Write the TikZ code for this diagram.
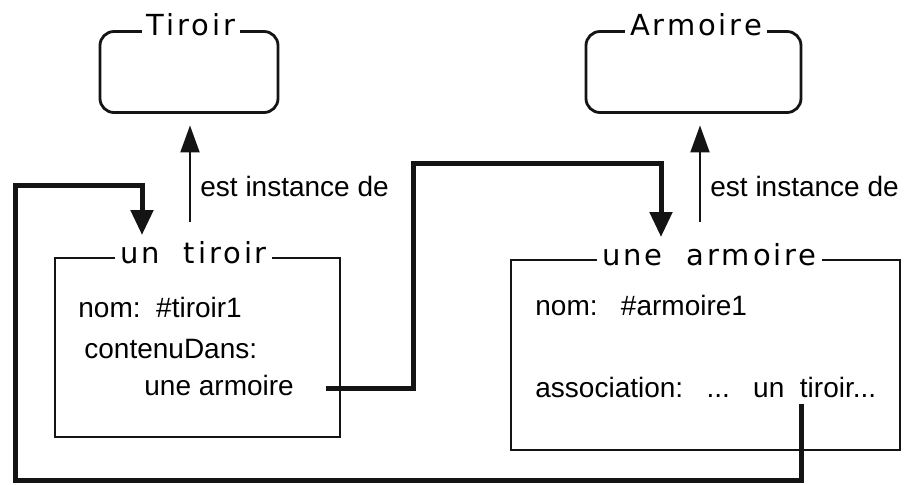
\documentclass[tikz,border=0pt]{standalone}
\usepackage{fontspec}
\setmainfont{Liberation Sans}
\newfontfamily\titlefont[LetterSpace=10]{DejaVu Sans}
\usepackage{tikz}
\usetikzlibrary{arrows.meta,positioning,calc}
\definecolor{inkblack}{RGB}{20,20,20}

\begin{document}
\begin{tikzpicture}[
  x=0.5pt, y=-0.5pt,
  classbox/.style={rectangle, rounded corners=7pt, draw=inkblack,
                   line width=1.4pt, minimum height=40.5pt, inner sep=0pt},
  instbox/.style={rectangle, draw=inkblack, line width=1.25pt, inner sep=0pt},
  title/.style={fill=white, inner xsep=2.5pt, inner ysep=1pt, anchor=base,
                font=\titlefont\fontsize{14.5}{17}\selectfont},
  field/.style={anchor=base west, inner sep=0pt,
                font=\fontsize{14}{17}\selectfont},
  isa/.style={-{Triangle[length=13.5pt, width=9.5pt]}, draw=inkblack,
              line width=1pt, shorten >=5.75pt},
  link/.style={-{Triangle[length=12.5pt, width=11pt]}, draw=inkblack,
               line width=2.5pt},
]
\useasboundingbox (0,0) rectangle (906,484);

% Classes
\node[classbox, minimum width=89pt]    (Tiroir)  at (189,72)   {};
\node[classbox, minimum width=107.5pt] (Armoire) at (693.5,72) {};
\node[title] (TiroirT)  at ([xshift=1pt,yshift=-2.75pt]Tiroir.north)     {Tiroir};
\node[title] (ArmoireT) at ([xshift=1.25pt,yshift=-2.75pt]Armoire.north) {Armoire};

% Instances
\node[instbox, minimum width=142.5pt, minimum height=89.5pt] (unTiroir)   at (197.5,347.5) {};
\node[instbox, minimum width=194.5pt, minimum height=95pt]   (uneArmoire) at (705.5,355)   {};
\node[title] (unTiroirT)   at ([xshift=-2pt,yshift=-3.5pt]unTiroir.north)  {un\ \ tiroir};
\node[title] (uneArmoireT) at ([xshift=2pt,yshift=-3.5pt]uneArmoire.north) {une\ \ armoire};

% Slots
\node[field] (nomT)   at (78,317)  {nom:\ \ \#tiroir1};
\node[field] (contT)  at (84,358)  {contenuDans:};
\node[field] (refA)   at (144,395) {une armoire};
\node[field] (nomA)   at (535,315) {nom:\ \ \ \#armoire1};
\node[field] (assocA) at (535,397) {association:\ \ \ ...\ \ \ un\ \ tiroir...};

% est instance de
\coordinate (isaT) at (190,222);
\coordinate (isaA) at (700,222);
\draw[isa] (isaT) -- (isaT |- Tiroir.south);
\draw[isa] (isaA) -- (isaA |- Armoire.south);
\node[field] (isaTl) at (200,196) {est instance de};
\node[field] (isaAl) at (710,196) {est instance de};

% Links
\coordinate (bendA)  at (413,163);
\coordinate (tipA)   at (661,237);
\coordinate (assocT) at (801,404);
\coordinate (loopSW) at (15,480);
\coordinate (loopN)  at (142,185);
\coordinate (tipB)   at (142,235);
\draw[link] ([xshift=16pt,yshift=-1.5pt]refA.east) -| (bendA) -| (tipA);
\draw[link] (assocT) |- (loopSW) |- (loopN) -- (tipB);
\end{tikzpicture}
\end{document}
